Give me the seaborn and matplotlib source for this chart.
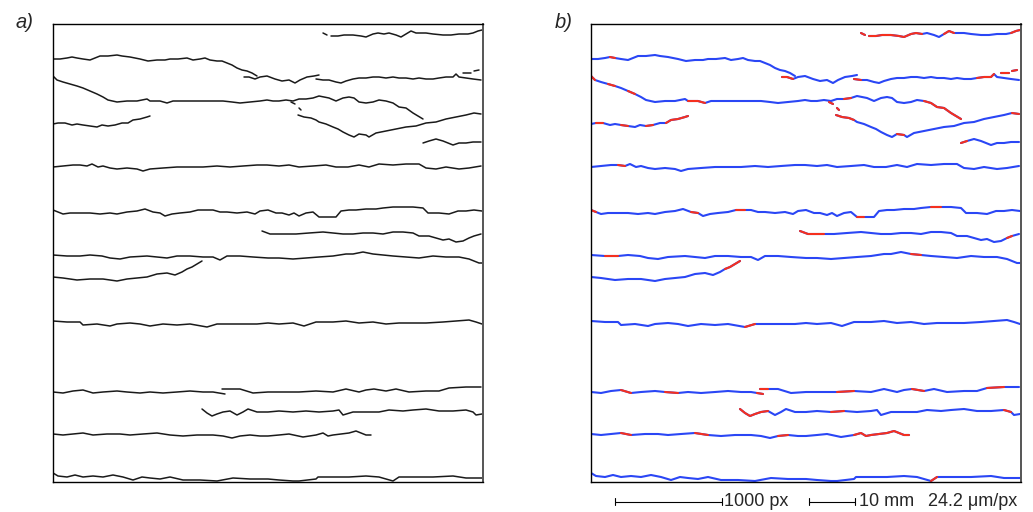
import matplotlib
matplotlib.use("Agg")
import matplotlib.pyplot as plt
import seaborn as sns
import pandas as pd

# ---- crack traces (x, y) in panel pixel units (x right, y down) ----
CRACK_01A = [(270, 9), (274, 11)]
CRACK_01B = [(278, 12), (285, 12), (291, 11), (300, 11), (308, 12), (313, 13), (320, 10), (325, 9),
             (331, 10), (336, 9), (343, 11), (348, 13), (353, 10), (358, 7), (363, 9), (368, 9),
             (373, 9), (380, 10), (390, 11), (398, 11), (406, 10), (415, 10), (420, 9), (425, 7), (429, 6)]
CRACK_02 = [(0, 35), (7, 35), (14, 34), (19, 33), (24, 34), (30, 35), (37, 36), (42, 34), (47, 32),
            (55, 32), (64, 31), (69, 32), (77, 33), (87, 35), (95, 37), (104, 36), (112, 36), (117, 35),
            (125, 35), (134, 34), (140, 36), (147, 35), (152, 34), (157, 36), (164, 37), (169, 37),
            (174, 39), (179, 41), (184, 44), (189, 46), (194, 47), (199, 49), (204, 52)]
CRACK_03 = [(191, 53), (196, 53), (202, 55), (207, 53), (214, 52), (222, 55), (229, 57), (236, 56),
            (242, 59), (247, 56), (254, 53), (261, 52), (266, 51)]
CRACK_04 = [(263, 55), (270, 56), (276, 56), (283, 58), (288, 59), (293, 57), (300, 55), (306, 54),
            (313, 54), (320, 53), (326, 53), (333, 54), (340, 53), (346, 54), (353, 54), (360, 55),
            (366, 54), (373, 55), (380, 55), (386, 54), (393, 53), (400, 53), (403, 50), (406, 53),
            (413, 54), (420, 55), (428, 56)]
DASH_01 = [(410, 49), (418, 49)]
DASH_02 = [(421, 47), (426, 46)]
CRACK_06 = [(0, 52), (4, 56), (10, 58), (17, 60), (24, 62), (30, 64), (37, 67), (44, 70), (50, 73),
            (55, 76), (64, 78), (74, 77), (84, 77), (94, 75), (97, 77), (107, 77), (114, 79), (120, 77),
            (130, 77), (140, 77), (150, 77), (160, 77), (170, 77), (179, 78), (187, 79), (197, 78),
            (207, 77), (214, 76), (220, 77), (226, 77), (233, 76), (240, 77), (246, 75), (253, 75),
            (260, 74), (266, 72), (271, 73), (276, 74), (283, 77), (290, 74), (296, 73), (301, 74),
            (306, 78), (313, 79), (320, 78), (326, 76), (333, 77), (340, 79), (346, 83), (353, 84),
            (360, 89), (365, 92), (370, 95)]
CRACK_07 = [(245, 91), (251, 93), (258, 94), (263, 96), (266, 98), (273, 100), (280, 103), (285, 105),
            (290, 108), (296, 111), (301, 113), (306, 110), (313, 111), (316, 113), (323, 109),
            (333, 107), (343, 105), (353, 103), (363, 102), (373, 99), (383, 98), (393, 95), (403, 93),
            (413, 91), (421, 89), (428, 90)]
DASH_03 = [(238, 78), (242, 80)]
DASH_04 = [(246, 84), (248, 86)]
CRACK_08 = [(0, 100), (5, 99), (12, 99), (19, 101), (24, 100), (30, 101), (37, 102), (44, 103),
            (49, 101), (55, 102), (62, 101), (69, 99), (75, 99), (80, 96), (87, 95), (94, 93), (97, 92)]
CRACK_09 = [(370, 119), (376, 117), (383, 115), (390, 117), (395, 119), (400, 121), (406, 119),
            (413, 119), (420, 118), (428, 118)]
CRACK_10 = [(0, 143), (10, 142), (20, 141), (27, 141), (34, 142), (39, 140), (45, 143), (50, 142),
            (57, 144), (64, 145), (74, 144), (84, 145), (90, 147), (97, 145), (110, 144), (124, 143),
            (137, 143), (150, 143), (164, 142), (177, 143), (190, 142), (204, 141), (214, 141),
            (226, 142), (236, 141), (246, 143), (260, 142), (273, 141), (283, 143), (295, 143),
            (306, 141), (316, 143), (326, 140), (340, 141), (353, 140), (366, 140), (373, 144),
            (383, 145), (393, 143), (406, 145), (416, 144), (428, 142)]
CRACK_11 = [(0, 186), (5, 188), (10, 190), (17, 189), (27, 189), (37, 189), (47, 190), (57, 189),
            (64, 190), (74, 188), (84, 187), (92, 185), (100, 188), (107, 189), (112, 192), (119, 190),
            (127, 189), (137, 188), (145, 186), (154, 186), (160, 186), (167, 188), (174, 188),
            (184, 189), (194, 188), (202, 190), (207, 187), (215, 186), (223, 189), (229, 189),
            (236, 191), (241, 189), (246, 192), (253, 189), (260, 188), (266, 193), (273, 193),
            (283, 193), (288, 187), (296, 186), (303, 186), (313, 185), (323, 185), (330, 184),
            (340, 183), (350, 183), (360, 183), (370, 184), (375, 189), (386, 189), (396, 190),
            (405, 187), (413, 187), (421, 186), (429, 187)]
CRACK_12 = [(209, 207), (217, 210), (223, 210), (233, 210), (243, 210), (256, 209), (270, 208),
            (280, 209), (290, 210), (300, 210), (310, 209), (320, 209), (330, 210), (340, 208),
            (350, 208), (360, 209), (366, 212), (376, 212), (383, 214), (390, 216), (396, 215),
            (403, 218), (410, 217), (416, 214), (421, 212), (428, 210)]
CRACK_13 = [(0, 231), (14, 232), (27, 232), (37, 231), (49, 232), (57, 234), (67, 235), (77, 233),
            (94, 232), (104, 233), (114, 234), (124, 232), (137, 232), (150, 233), (160, 233),
            (167, 236), (174, 232), (187, 232), (200, 233), (215, 234), (226, 234), (240, 235),
            (253, 234), (266, 233), (280, 232), (293, 230), (300, 230), (310, 228), (320, 230),
            (330, 231), (340, 232), (353, 233), (366, 234), (380, 232), (393, 233), (406, 233),
            (416, 235), (426, 239), (429, 239)]
CRACK_14 = [(0, 253), (10, 254), (24, 256), (37, 255), (50, 255), (64, 257), (74, 255), (84, 254),
            (94, 253), (104, 250), (114, 249), (122, 251), (129, 248), (134, 245), (139, 243),
            (144, 240), (149, 237)]
CRACK_15 = [(0, 297), (14, 298), (27, 298), (30, 301), (44, 300), (57, 302), (64, 300), (77, 299),
            (87, 300), (97, 302), (110, 300), (124, 301), (137, 300), (154, 303), (164, 300),
            (177, 300), (190, 300), (204, 300), (215, 299), (226, 300), (240, 299), (251, 302),
            (263, 298), (280, 298), (293, 297), (306, 299), (320, 298), (333, 300), (346, 299),
            (360, 299), (373, 299), (390, 298), (403, 297), (416, 296), (423, 298), (429, 300)]
CRACK_16A = [(0, 368), (10, 369), (20, 367), (30, 366), (40, 369), (50, 368), (64, 367), (74, 368),
             (87, 369), (97, 368), (110, 369), (124, 368), (137, 367), (150, 368), (160, 368),
             (166, 369), (172, 370)]
CRACK_16B = [(169, 365), (177, 365), (187, 365), (200, 369), (215, 368), (230, 368), (246, 368),
             (263, 367), (280, 368), (293, 365), (306, 368), (313, 366), (321, 365), (333, 367),
             (343, 365), (356, 368), (373, 367), (386, 367), (396, 364), (413, 363), (428, 363)]
CRACK_17 = [(149, 385), (154, 389), (159, 392), (164, 390), (170, 388), (177, 387), (184, 391),
            (190, 388), (195, 385), (204, 388), (215, 388), (226, 387), (240, 388), (253, 387),
            (266, 388), (280, 387), (286, 386), (290, 391), (300, 388), (313, 388), (326, 388),
            (336, 386), (350, 387), (360, 386), (373, 385), (386, 387), (400, 387), (413, 386),
            (420, 388), (423, 391), (429, 390)]
CRACK_18 = [(0, 410), (10, 411), (20, 410), (30, 409), (40, 411), (54, 410), (67, 410), (77, 411),
            (90, 410), (104, 409), (117, 411), (130, 412), (144, 411), (160, 411), (170, 412),
            (179, 414), (187, 412), (197, 411), (207, 412), (215, 412), (226, 411), (236, 410),
            (250, 413), (263, 411), (270, 409), (275, 412), (280, 411), (288, 410), (296, 409),
            (303, 407), (308, 409), (313, 411), (318, 411)]
CRACK_19 = [(0, 449), (5, 452), (14, 453), (22, 451), (30, 453), (40, 452), (50, 453), (60, 451),
            (70, 453), (80, 456), (89, 453), (97, 454), (107, 455), (117, 453), (130, 456), (147, 456),
            (164, 457), (180, 454), (197, 455), (215, 455), (226, 456), (240, 457), (246, 457),
            (263, 455), (265, 453), (280, 453), (296, 453), (313, 452), (326, 453), (340, 457),
            (346, 453), (363, 453), (380, 453), (400, 452), (413, 454), (429, 454)]

CRACK_NAMES = ["01a", "01b", "02", "03", "04", "d1", "d2", "06", "07", "d3", "d4", "08", "09", "10",
               "11", "12", "13", "14", "15", "16a", "16b", "17", "18", "19"]
CRACK_POINTS = [CRACK_01A, CRACK_01B, CRACK_02, CRACK_03, CRACK_04, DASH_01, DASH_02, CRACK_06,
                CRACK_07, DASH_03, DASH_04, CRACK_08, CRACK_09, CRACK_10, CRACK_11, CRACK_12,
                CRACK_13, CRACK_14, CRACK_15, CRACK_16A, CRACK_16B, CRACK_17, CRACK_18, CRACK_19]

# Sections classified red in panel b: (crack, first point index, last point index)
RED_SPANS = [("01a", 0, 1), ("01b", 0, 8), ("01b", 12, 14), ("01b", 22, 24),
             ("02", 3, 4), ("03", 0, 2), ("04", 0, 1), ("04", 19, 22), ("d1", 0, 1), ("d2", 0, 1),
             ("06", 0, 1), ("06", 3, 4), ("06", 6, 7), ("06", 14, 16), ("06", 33, 34), ("06", 46, 52),
             ("07", 0, 3), ("07", 11, 12), ("07", 24, 25), ("d3", 0, 1), ("d4", 0, 1),
             ("08", 1, 2), ("08", 5, 6), ("08", 9, 10), ("08", 12, 16), ("09", 0, 1), ("10", 3, 4),
             ("11", 0, 1), ("11", 12, 13), ("11", 18, 19), ("11", 35, 36), ("11", 44, 45),
             ("12", 0, 3), ("12", 23, 24), ("13", 1, 2), ("13", 28, 29), ("14", 13, 16),
             ("15", 13, 14), ("16a", 3, 4), ("16a", 7, 8), ("16a", 15, 16), ("16b", 0, 1),
             ("16b", 6, 7), ("16b", 12, 13), ("16b", 18, 19), ("17", 0, 5), ("17", 12, 13),
             ("17", 27, 28), ("18", 3, 4), ("18", 9, 10), ("18", 16, 17), ("18", 23, 32), ("19", 29, 30)]

PANEL_LABELS = ["a)", "b)"]
SCALE_TEXTS = ["1000 px", "10 mm", "24.2 \u03bcm/px"]

# ---- build long tables ----
rows = []
for name, pts in zip(CRACK_NAMES, CRACK_POINTS):
    for i, (x, y) in enumerate(pts):
        rows.append({"crack": name, "idx": i, "x": x, "y": y})
df = pd.DataFrame(rows)

lookup = dict(zip(CRACK_NAMES, CRACK_POINTS))
red_rows = []
for k, (name, i0, i1) in enumerate(RED_SPANS):
    for i in range(i0, i1 + 1):
        x, y = lookup[name][i]
        red_rows.append({"span": k, "x": x, "y": y})
df_red = pd.DataFrame(red_rows)

sns.set_theme(style="white")
plt.rcParams["font.family"] = ["Liberation Sans", "DejaVu Sans"]

W, H = 1033, 512
fig = plt.figure(figsize=(W / 100, H / 100), dpi=100)
fig.patch.set_facecolor("white")

ax_a = fig.add_axes([53 / W, 1 - 482 / H, 430 / W, 458 / H])
ax_b = fig.add_axes([591 / W, 1 - 482 / H, 430 / W, 458 / H])

sns.lineplot(data=df, x="x", y="y", units="crack", estimator=None, sort=False,
             color="#1a1a1a", linewidth=1.1, legend=False, ax=ax_a)
sns.lineplot(data=df, x="x", y="y", units="crack", estimator=None, sort=False,
             color="#2a46f5", linewidth=1.5, legend=False, ax=ax_b)
sns.lineplot(data=df_red, x="x", y="y", units="span", estimator=None, sort=False,
             color="#f5301e", linewidth=1.5, legend=False, ax=ax_b)

for ax in (ax_a, ax_b):
    ax.set_xlim(0, 430)
    ax.set_ylim(458, 0)
    ax.set_xticks([])
    ax.set_yticks([])
    ax.set_xlabel("")
    ax.set_ylabel("")
    ax.set_facecolor("white")
    for sp in ax.spines.values():
        sp.set_visible(True)
        sp.set_color("black")
        sp.set_linewidth(1.0)
    ax.spines["right"].set_color("#555555")
    ax.spines["right"].set_linewidth(1.4)

# ---- overlay for labels and scale bars (figure pixel coords) ----
ov = fig.add_axes([0, 0, 1, 1], facecolor="none")
ov.set_xlim(0, W)
ov.set_ylim(H, 0)
ov.axis("off")

ov.text(16, 22, PANEL_LABELS[0], fontsize=14.5, style="italic", ha="left", va="center")
ov.text(555, 22, PANEL_LABELS[1], fontsize=14.5, style="italic", ha="left", va="center")

ybar = 501.5
for x0, x1 in [(615, 721.5), (808.5, 855)]:
    ov.plot([x0, x1], [ybar, ybar], color="black", linewidth=0.8)
    ov.plot([x0, x0], [ybar - 3.5, ybar + 3.5], color="black", linewidth=0.8)
    ov.plot([x1, x1], [ybar - 3.5, ybar + 3.5], color="black", linewidth=0.8)
ov.text(724.5, 502, SCALE_TEXTS[0], fontsize=13, ha="left", va="center")
ov.text(859, 502, SCALE_TEXTS[1], fontsize=13, ha="left", va="center")
ov.text(928, 502, SCALE_TEXTS[2], fontsize=13, ha="left", va="center")

fig.savefig("out.png", dpi=100, facecolor="white")
